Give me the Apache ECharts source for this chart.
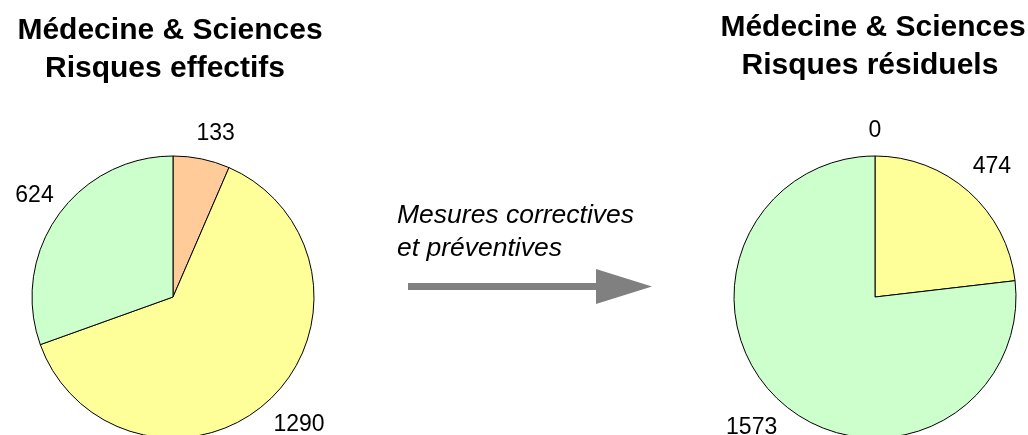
<!DOCTYPE html>
<html>
<head>
<meta charset="utf-8">
<script src="https://cdn.jsdelivr.net/npm/echarts@6/dist/echarts.min.js"></script>
<style>
  * { padding: 0; margin: 0; }
  html, body { background: #fff; }
  #chart { width: 1028px; height: 435px; }
</style>
</head>
<body>
<div id="chart"></div>
<script>
// risk classes, in drawing order (clockwise from 12 o'clock)
const classes = ['Élevé', 'Moyen', 'Faible']
const effectifs = [133, 1290, 624]
const residuels = [0, 474, 1573]
const classColors = ['#FFCC99', '#FFFF99', '#CCFFCC']

const leftTitle = ['Médecine & Sciences', 'Risques effectifs']
const rightTitle = ['Médecine & Sciences', 'Risques résiduels']
const arrowText = ['Mesures correctives', 'et préventives']

const RADIUS = 141
const LABEL_PAD_X = 4
const LABEL_LIFT = 25
const LEFT_CENTER = [173, 297]
const RIGHT_CENTER = [875, 297]

const clamp = (t) => Math.max(-1, Math.min(1, t))

// mid angle of slice i, radians clockwise from top
const sliceMid = (values, i) => {
  const total = values.reduce((a, b) => a + b, 0)
  let before = 0
  for (let k = 0; k < i; k++) before += values[k]
  return (before + values[i] / 2) / total * Math.PI * 2
}

// excel style: label hangs off the rim point of the slice's middle
const outsideLabel = (values, center) => (params) => {
  const a = sliceMid(values, params.dataIndex)
  const nx = Math.sin(a)
  const ny = -Math.cos(a)
  const w = params.labelRect.width
  const rimX = center[0] + RADIUS * nx
  const rimY = center[1] + RADIUS * ny
  return {
    x: rimX + (w / 2 + LABEL_PAD_X) * clamp(3 * nx),
    y: rimY + LABEL_LIFT * clamp(1.4 * ny),
    align: 'center',
    verticalAlign: 'middle'
  }
}

const pieSeries = (values, center) => ({
  type: 'pie',
  center: center,
  radius: RADIUS,
  startAngle: 90,
  clockwise: true,
  avoidLabelOverlap: false,
  silent: true,
  itemStyle: {
    borderColor: '#000',
    borderWidth: 1
  },
  label: {
    show: true,
    position: 'outside',
    formatter: '{c}',
    color: '#000',
    fontFamily: 'Liberation Sans, Arial, sans-serif',
    fontSize: 23
  },
  labelLine: { show: false },
  labelLayout: outsideLabel(values, center),
  data: values.map((v, i) => ({
    name: classes[i],
    value: v,
    itemStyle: { color: classColors[i] }
  }))
})

const titleLine = (text, x, y) => ({
  type: 'text',
  x: x,
  y: y,
  silent: true,
  style: {
    text: text,
    font: 'bold 30px "Liberation Sans", Arial, sans-serif',
    fill: '#000',
    align: 'center',
    verticalAlign: 'middle'
  }
})

const italicLine = (text, y) => ({
  type: 'text',
  x: 397,
  y: y,
  silent: true,
  style: {
    text: text,
    font: 'italic 26.5px "Liberation Sans", Arial, sans-serif',
    fill: '#000',
    align: 'left',
    verticalAlign: 'middle'
  }
})

const charts = echarts.init(document.getElementById('chart'))
charts.setOption({
  animation: false,
  backgroundColor: '#fff',
  graphic: [
    titleLine(leftTitle[0], 170, 31),
    titleLine(leftTitle[1], 165, 69),
    titleLine(rightTitle[0], 873, 28),
    titleLine(rightTitle[1], 870, 66),
    italicLine(arrowText[0], 216),
    italicLine(arrowText[1], 249),
    {
      type: 'polygon',
      silent: true,
      shape: {
        points: [[408, 283], [596, 283], [596, 269], [652, 286.5], [596, 304], [596, 290], [408, 290]]
      },
      style: { fill: '#808080' }
    }
  ],
  series: [
    pieSeries(effectifs, LEFT_CENTER),
    pieSeries(residuels, RIGHT_CENTER)
  ]
})
</script>
</body>
</html>
